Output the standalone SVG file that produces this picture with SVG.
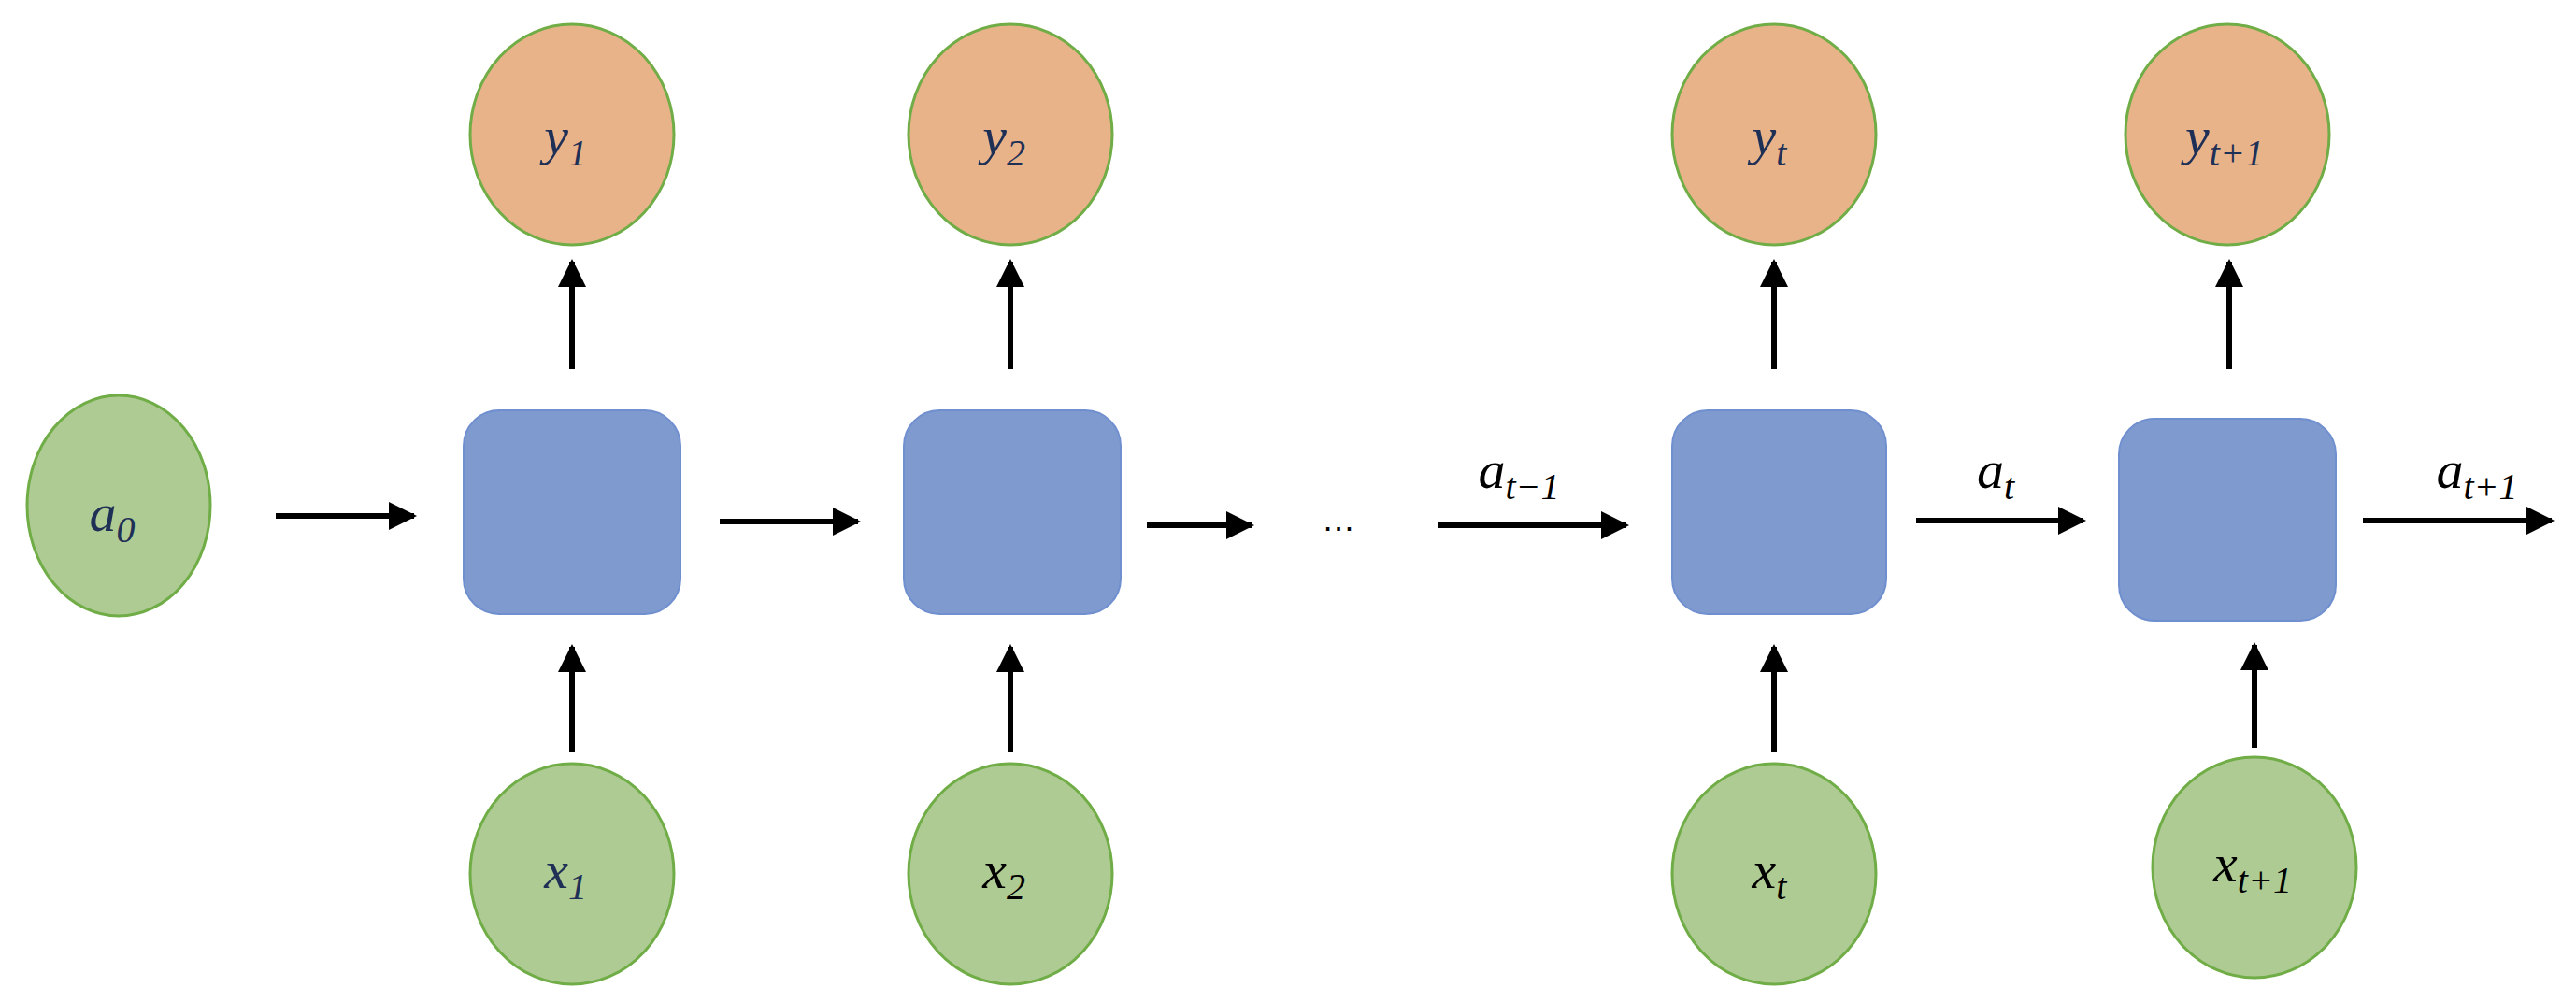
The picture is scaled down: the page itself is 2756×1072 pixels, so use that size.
<svg xmlns="http://www.w3.org/2000/svg" width="2756" height="1072" viewBox="0 0 2756 1072">
<style>
.g{fill:#aecb93;stroke:#70ad47;stroke-width:3}
.o{fill:#e9b38a;stroke:#70ad47;stroke-width:3}
.b{fill:#7f9acf;stroke:#6f8fcf;stroke-width:2}
.t{font-family:"Liberation Serif",serif;font-style:italic;font-size:58px;fill:#1f3056;text-anchor:middle}
.s{font-size:40px}
.e{fill:#000}
.c line{stroke:#000;stroke-width:6}
</style>
<defs><marker id="ah" viewBox="0 0 10 10" refX="9" refY="5" markerWidth="5" markerHeight="5" orient="auto" markerUnits="strokeWidth"><path d="M0,0L10,5L0,10z" fill="#000"/></marker></defs>
<rect width="2756" height="1072" fill="#fff"/>
<g id="a0"><ellipse class="g" cx="127" cy="541" rx="98" ry="118"/><text class="t" x="120" y="568">a<tspan class="s" dy="12">0</tspan></text></g>
<g id="box1"><rect class="b" x="496" y="439" width="232" height="218" rx="38"/></g>
<g id="box2"><rect class="b" x="967" y="439" width="232" height="218" rx="38"/></g>
<g id="box3"><rect class="b" x="1789" y="439" width="229" height="218" rx="38"/></g>
<g id="box4"><rect class="b" x="2267" y="448" width="232" height="216" rx="38"/></g>
<g id="y1"><ellipse class="o" cx="612" cy="144" rx="109" ry="118"/><text class="t" x="605" y="165">y<tspan class="s" dy="12">1</tspan></text></g>
<g id="y2"><ellipse class="o" cx="1081" cy="144" rx="109" ry="118"/><text class="t" x="1074" y="165">y<tspan class="s" dy="12">2</tspan></text></g>
<g id="yt"><ellipse class="o" cx="1898" cy="144" rx="109" ry="118"/><text class="t" x="1893" y="165">y<tspan class="s" dy="12">t</tspan></text></g>
<g id="yt1"><ellipse class="o" cx="2383" cy="144" rx="109" ry="118"/><text class="t" x="2380" y="165">y<tspan class="s" dy="12">t+1</tspan></text></g>
<g id="x1"><ellipse class="g" cx="612" cy="935" rx="109" ry="118"/><text class="t" x="605" y="950">x<tspan class="s" dy="12">1</tspan></text></g>
<g id="x2"><ellipse class="g" cx="1081" cy="935" rx="109" ry="118"/><text class="t" x="1074" y="950" fill="#000" style="fill:#000">x<tspan class="s" dy="12">2</tspan></text></g>
<g id="xt"><ellipse class="g" cx="1898" cy="935" rx="109" ry="118"/><text class="t" x="1893" y="950" style="fill:#000">x<tspan class="s" dy="12">t</tspan></text></g>
<g id="xt1"><ellipse class="g" cx="2412" cy="928" rx="109" ry="118"/><text class="t" x="2410" y="943" style="fill:#000">x<tspan class="s" dy="12">t+1</tspan></text></g>
<g class="c" id="connectors">
<line x1="612" y1="395" x2="612" y2="280" marker-end="url(#ah)"/>
<line x1="1081" y1="395" x2="1081" y2="280" marker-end="url(#ah)"/>
<line x1="1898" y1="395" x2="1898" y2="280" marker-end="url(#ah)"/>
<line x1="2385" y1="395" x2="2385" y2="280" marker-end="url(#ah)"/>
<line x1="612" y1="805" x2="612" y2="692" marker-end="url(#ah)"/>
<line x1="1081" y1="805" x2="1081" y2="692" marker-end="url(#ah)"/>
<line x1="1898" y1="805" x2="1898" y2="692" marker-end="url(#ah)"/>
<line x1="2412" y1="800" x2="2412" y2="690" marker-end="url(#ah)"/>
<line x1="295" y1="552" x2="443" y2="552" marker-end="url(#ah)"/>
<line x1="770" y1="558" x2="918" y2="558" marker-end="url(#ah)"/>
<line x1="1227" y1="562" x2="1339" y2="562" marker-end="url(#ah)"/>
<line x1="1538" y1="562" x2="1740" y2="562" marker-end="url(#ah)"/>
<line x1="2050" y1="557" x2="2229" y2="557" marker-end="url(#ah)"/>
<line x1="2528" y1="557" x2="2730" y2="557" marker-end="url(#ah)"/>
</g>
<text x="1432" y="568" font-family="Liberation Sans,sans-serif" font-size="36" text-anchor="middle">…</text>
<text class="t" x="1625" y="522" style="fill:#000">a<tspan class="s" dy="12">t−1</tspan></text>
<text class="t" x="2135" y="522" style="fill:#000">a<tspan class="s" dy="12">t</tspan></text>
<text class="t" x="2650" y="522" style="fill:#000">a<tspan class="s" dy="12">t+1</tspan></text>
</svg>
